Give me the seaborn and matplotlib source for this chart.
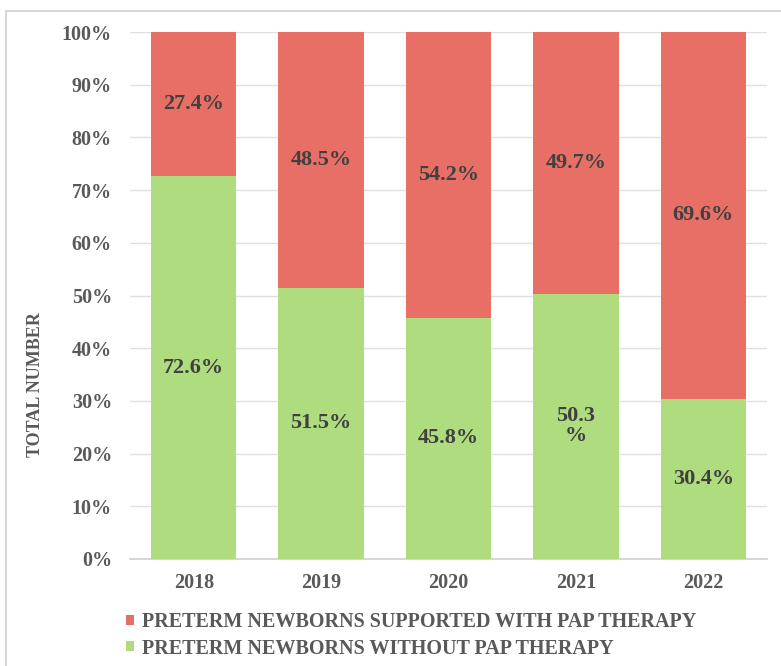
import matplotlib
matplotlib.use("Agg")
import matplotlib.pyplot as plt
import seaborn as sns
import pandas as pd
from matplotlib.patches import Rectangle

years = ["2018", "2019", "2020", "2021", "2022"]
without_pap = [72.6, 51.5, 45.8, 50.3, 30.4]
with_pap = [27.4, 48.5, 54.2, 49.7, 69.6]
label_with = "PRETERM NEWBORNS SUPPORTED WITH PAP THERAPY"
label_without = "PRETERM NEWBORNS WITHOUT PAP THERAPY"
with_texts = ["27.4%", "48.5%", "54.2%", "49.7%", "69.6%"]
without_texts = ["72.6%", "51.5%", "45.8%", "50.3\n%", "30.4%"]
yticks = [0, 10, 20, 30, 40, 50, 60, 70, 80, 90, 100]

sns.set_theme(style="white")
plt.rcParams["font.family"] = ["Liberation Serif", "DejaVu Serif"]

RED = "#E86F66"
GREEN = "#AEDC7F"
GRAY = "#595959"
DARK = "#404040"

df = pd.DataFrame({
    "year": years,
    "without": without_pap,
    "with": with_pap,
})
df["total"] = df["without"] + df["with"]

fig = plt.figure(figsize=(7.81, 6.66), dpi=100)
fig.patches.append(Rectangle((6 / 781, -0.01), 1.0, (666 - 11) / 666 + 0.01,
                             transform=fig.transFigure, fill=False,
                             edgecolor="#d0d0d0", linewidth=1.2, zorder=0))
ax = fig.add_axes([130 / 781, (666 - 559) / 666, (767 - 130) / 781, (559 - 32) / 666])

sns.barplot(data=df, x="year", y="total", color=RED, width=0.67, ax=ax,
            saturation=1, label=label_with, zorder=2, linewidth=0)
sns.barplot(data=df, x="year", y="without", color=GREEN, width=0.67, ax=ax,
            saturation=1, label=label_without, zorder=3, linewidth=0)

ax.set_ylim(0, 100)
ax.set_xlim(-0.5, len(years) - 0.5)
ax.set_yticks(yticks)
ax.set_yticklabels([f"{t}%" for t in yticks], fontsize=14.5, fontweight="bold", color=GRAY)
ax.set_xticks(range(len(years)))
ax.set_xticklabels(years, fontsize=14.5, fontweight="bold", color=GRAY)
ax.tick_params(axis="y", length=0, pad=13)
ax.tick_params(axis="x", length=0, pad=10)
ax.set_xlabel("")
ax.set_ylabel("")
ax.grid(axis="y", color="#e0e0e0", linewidth=1, zorder=0)
ax.set_axisbelow(True)
for s in ["top", "right", "left"]:
    ax.spines[s].set_visible(False)
ax.spines["bottom"].set_color("#d0d0d0")
ax.spines["bottom"].set_linewidth(1.2)

for i in range(len(years)):
    g = without_pap[i]
    r = with_pap[i]
    ax.text(i, g / 2, without_texts[i], ha="center", va="center", fontsize=16,
            fontweight="bold", color=DARK, zorder=5, linespacing=1.0)
    ax.text(i, g + r / 2, with_texts[i], ha="center", va="center", fontsize=16,
            fontweight="bold", color=DARK, zorder=5)

fig.text(36 / 781, 1 - 385 / 666, "TOTAL NUMBER", rotation=90, ha="center", va="center",
         fontsize=13, fontweight="bold", color=GRAY)

handles, labels = ax.get_legend_handles_labels()
order = [labels.index(label_with), labels.index(label_without)]
leg = fig.legend([handles[k] for k in order], [labels[k] for k in order],
                 loc="upper left", bbox_to_anchor=(108 / 781, 1 - 594 / 666),
                 frameon=False, ncol=1, handlelength=0.4, handleheight=0.4,
                 handletextpad=0.4, labelspacing=0.32,
                 prop={"family": "Liberation Serif", "weight": "bold", "size": 14.5})
for t in leg.get_texts():
    t.set_color(GRAY)
if ax.get_legend() is not None:
    ax.get_legend().remove()

fig.savefig("out.png", dpi=100)
